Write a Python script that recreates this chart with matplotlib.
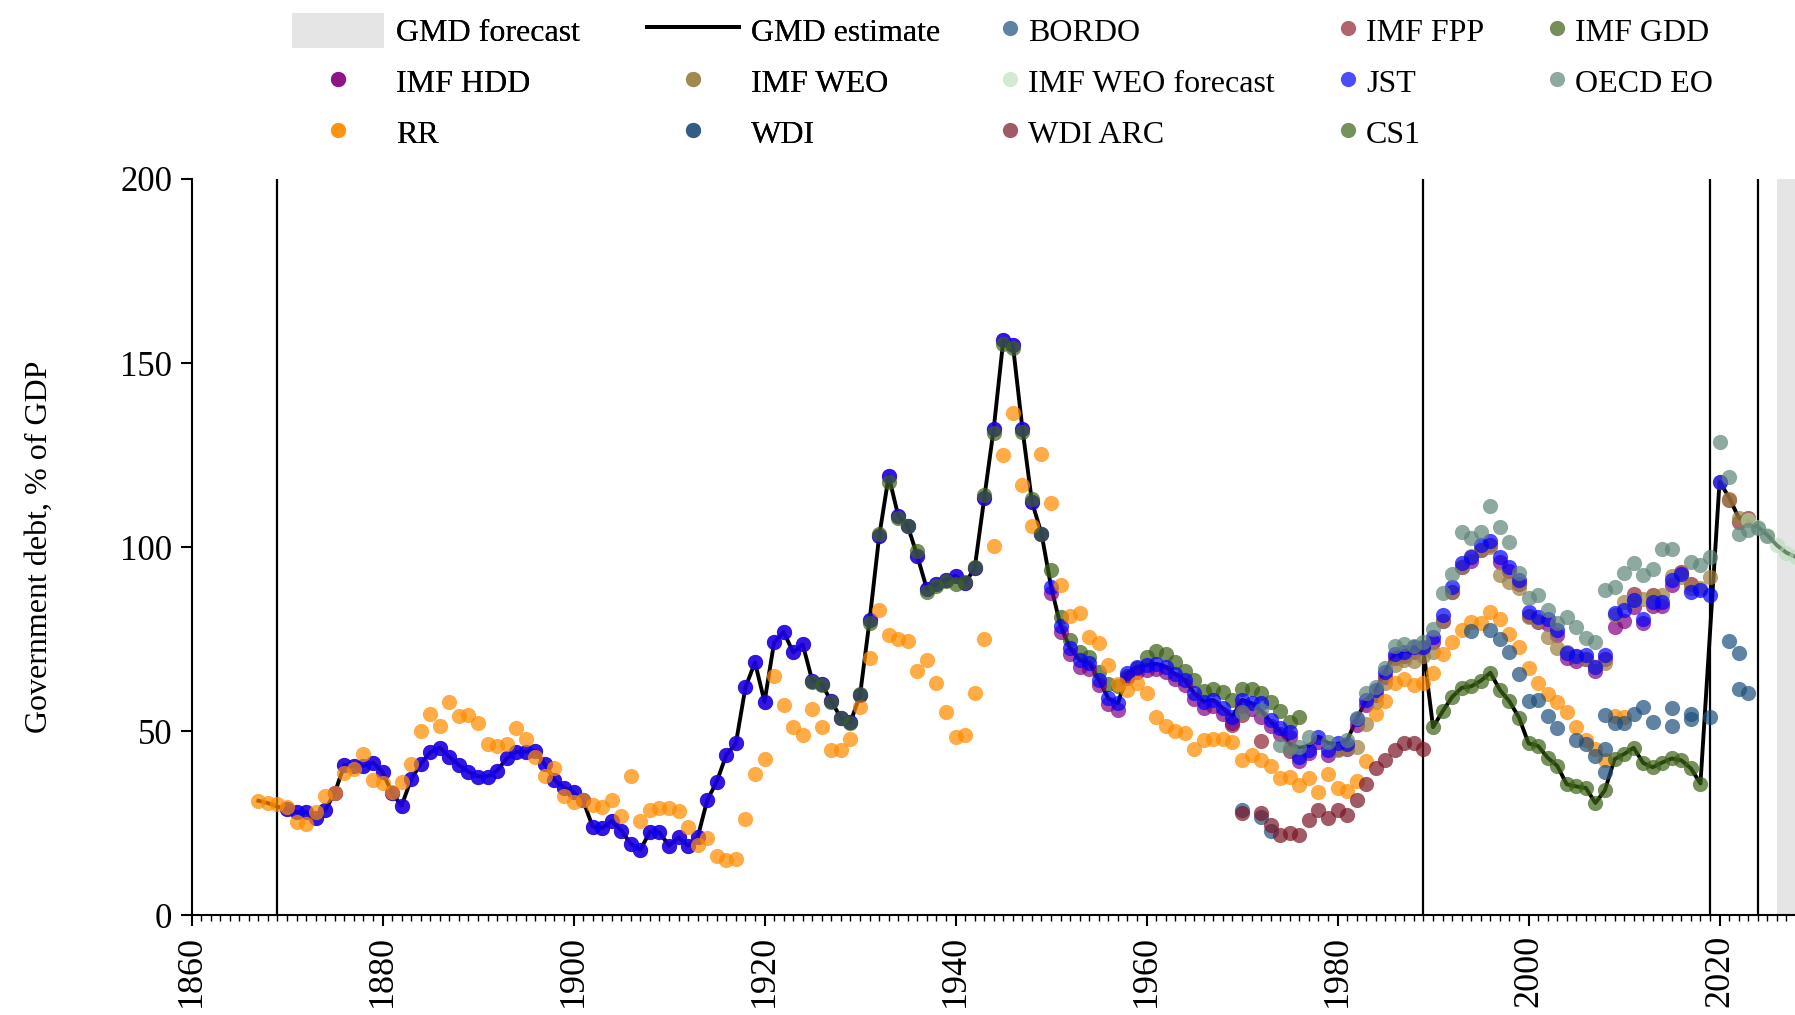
import numpy as np
import matplotlib.pyplot as plt
from matplotlib.patches import Patch
from matplotlib.lines import Line2D
from matplotlib.ticker import MultipleLocator

plt.rcParams['font.family'] = ['Liberation Serif', 'DejaVu Serif']

nan = np.nan

# GMD estimate, 1867-2030 (2019 not reported)
gmd_start = 1867
gmd = [31.1, 30.5, 29.5,
       28.8, 28.0, 28.0, 26.4, 28.6, 33.3, 40.8, 40.6, 40.6, 41.5,
       39.0, 33.1, 29.8, 37.0, 41.1, 44.3, 45.5, 43.1, 40.8, 39.0,
       37.7, 37.7, 39.3, 42.6, 44.4, 44.4, 44.7, 41.0, 36.8, 34.7,
       33.4, 31.2, 24.1, 23.7, 25.6, 23.0, 19.4, 17.8, 22.7, 22.5,
       18.9, 21.2, 18.9, 21.2, 31.3, 36.3, 43.6, 46.7, 61.9, 68.7,
       58.0, 74.1, 77.0, 71.4, 73.6, 63.7, 62.7, 58.1, 53.6, 52.5,
       59.8, 80.1, 102.9, 119.3, 108.5, 105.7, 97.6, 88.6, 90.0, 91.1,
       92.2, 90.3, 94.2, 113.3, 132.2, 156.2, 155.0, 132.2, 112.3, 103.7,
       89.3, 78.6, 72.5, 69.3, 68.6, 64.0, 58.9, 57.6, 65.7, 67.5,
       68.0, 68.3, 67.5, 65.5, 63.9, 60.3, 58.0, 58.5, 56.2, 54.0,
       58.5, 57.6, 55.5, 52.5, 50.0, 46.5, 45.5, 46.0, 48.5, 46.8,
       46.5, 47.5, 53.3, 58.5, 61.2, 66.2, 71.1, 71.6, 72.8, 72.0,
       51.1, 55.4, 59.3, 61.8, 62.2, 63.7, 65.9, 61.2, 58.1, 53.7,
       46.7, 46.0, 42.8, 40.6, 35.6, 35.0, 34.6, 30.5, 34.0, 42.4,
       43.8, 45.5, 41.4, 40.2, 41.5, 42.6, 42.1, 39.9, 35.8, nan,
       117.8, 113.5, 108.0, 107.0, 105.5, 103.3, 100.5, 98.5, 97.3, 96.0, 94.8]

# JST, 1870-2020
jst_start = 1870
jst = [28.8, 28.0, 28.0, 26.4, 28.6, 33.3, 40.8, 40.6, 40.6, 41.5,
       39.0, 33.1, 29.8, 37.0, 41.1, 44.3, 45.5, 43.1, 40.8, 39.0,
       37.7, 37.7, 39.3, 42.6, 44.4, 44.4, 44.7, 41.0, 36.8, 34.7,
       33.4, 31.2, 24.1, 23.7, 25.6, 23.0, 19.4, 17.8, 22.7, 22.5,
       18.9, 21.2, 18.9, 21.2, 31.3, 36.3, 43.6, 46.7, 61.9, 68.7,
       58.0, 74.1, 77.0, 71.4, 73.6, 63.7, 62.7, 58.1, 53.6, 52.5,
       59.8, 80.1, 102.9, 119.3, 108.5, 105.7, 97.6, 88.6, 90.0, 91.1,
       92.2, 90.3, 94.2, 113.3, 132.2, 156.2, 155.0, 132.2, 112.3, 103.7,
       89.3, 78.6, 72.5, 69.3, 68.6, 64.0, 58.9, 57.6, 65.7, 67.5,
       67.9, 68.3, 67.5, 65.5, 63.9, 60.3, 58.0, 58.5, 56.2, 54.0,
       58.5, 57.6, 57.6, 53.1, 50.8, 49.9, 43.1, 45.0, 48.5, 44.9,
       46.7, 46.5, 53.3, 58.5, 61.2, 66.2, 71.1, 71.6, 72.8, 73.0,
       75.5, 81.5, 89.2, 95.8, 97.4, 100.7, 101.7, 97.2, 94.7, 91.2,
       82.5, 81.1, 80.4, 77.5, 71.3, 70.4, 70.7, 67.5, 70.7, 82.0,
       82.9, 85.6, 80.6, 85.2, 85.2, 91.1, 92.7, 87.7, 88.3, 87.0, 117.8]

# IMF HDD, 1870-2015
hdd_start = 1870
hdd = [28.8, 28.0, 28.0, 26.4, 28.6, 33.3, 40.8, 40.6, 40.6, 41.5,
       39.0, 33.1, 29.8, 37.0, 41.1, 44.3, 45.5, 43.1, 40.8, 39.0,
       37.7, 37.7, 39.3, 42.6, 44.4, 44.4, 44.7, 41.0, 36.8, 34.7,
       33.4, 31.2, 24.1, 23.7, 25.6, 23.0, 19.4, 17.8, 22.7, 22.5,
       18.9, 21.2, 18.9, 21.2, 31.3, 36.3, 43.6, 46.7, 61.9, 68.7,
       58.0, 74.1, 77.0, 71.4, 73.6, 63.7, 62.7, 58.1, 53.6, 52.5,
       59.8, 80.1, 102.9, 119.3, 108.5, 105.7, 97.6, 88.6, 90.0, 91.1,
       92.2, 90.3, 94.2, 113.3, 132.2, 156.2, 155.0, 132.2, 112.3, 103.7,
       87.5, 77.0, 71.0, 67.5, 66.8, 62.5, 57.4, 55.9, 64.5, 66.1,
       66.5, 67.0, 66.1, 64.1, 62.5, 58.8, 56.4, 56.9, 54.6, 52.2,
       56.9, 56.0, 54.0, 51.5, 49.2, 48.4, 41.8, 44.0, 47.0, 43.6,
       45.2, 45.2, 51.8, 57.0, 59.8, 64.8, 69.8, 70.3, 71.5, 72.5,
       74.2, 80.0, 87.8, 94.5, 96.1, 99.3, 100.5, 96.0, 93.4, 89.9,
       81.2, 79.8, 79.1, 76.2, 70.0, 69.2, 69.5, 66.3, 69.5, 78.4,
       80.0, 83.8, 79.5, 84.0, 84.0, 89.8]

# RR, 1867-2010
rr_start = 1867
rr = [31.1, 30.6, 30.2,
      29.5, 25.3, 24.7, 28.0, 32.4, 33.1, 38.7, 39.7, 43.7, 36.8,
      35.9, 33.6, 36.3, 41.0, 50.1, 54.6, 51.5, 57.9, 54.2, 54.4,
      52.3, 46.5, 46.0, 46.5, 51.0, 47.8, 43.1, 37.9, 39.9, 32.4,
      30.7, 31.3, 30.0, 29.3, 31.3, 27.1, 37.9, 25.5, 28.6, 29.1,
      29.1, 28.2, 23.9, 19.1, 20.9, 16.2, 15.1, 15.3, 26.1, 38.4,
      42.4, 65.1, 57.1, 51.1, 49.1, 56.0, 51.1, 45.0, 45.0, 48.0,
      56.7, 70.0, 82.9, 76.1, 75.0, 74.5, 66.3, 69.4, 63.0, 55.1,
      48.3, 48.9, 60.4, 75.0, 100.4, 125.1, 136.5, 116.8, 105.7, 125.2,
      111.9, 89.6, 81.3, 82.1, 75.7, 73.9, 68.0, 62.8, 61.2, 63.2,
      60.5, 54.0, 51.5, 50.1, 49.4, 45.1, 47.6, 47.9, 47.9, 47.2,
      42.3, 43.5, 42.2, 40.6, 37.4, 37.7, 35.4, 37.4, 33.6, 38.4,
      34.5, 33.9, 36.5, 42.0, 54.7, 58.3, 63.0, 64.1, 62.5, 63.0,
      65.9, 70.9, 74.1, 77.5, 79.7, 79.5, 82.5, 80.6, 76.3, 73.0,
      67.3, 63.0, 60.0, 58.0, 55.3, 51.2, 47.6, 45.2, 42.2, 54.1,
      53.8]

# IMF GDD, 1950-1976
gdd_start = 1950
gdd = [93.8, 81.1, 74.8, 71.6, 70.2, 66.0, 62.7, 62.4, 65.0, 67.3,
       70.1, 71.9, 71.0, 68.9, 66.4, 63.9, 61.0, 61.6, 60.7, 58.5,
       61.6, 61.6, 60.5, 58.0, 55.5, 52.6, 54.0]

# CS1, 1925-1949 and 1990-2018
cs1_early_start = 1925
cs1_early = [63.3, 62.5, 57.9, 53.5, 52.2, 60.1, 79.3, 103.5, 117.8, 108.0,
             105.7, 99.0, 87.7, 89.5, 90.8, 90.0, 90.5, 94.5, 114.2, 131.0,
             155.3, 154.1, 131.3, 113.1, 103.5]
cs1_late_start = 1990
cs1_late = [51.1, 55.4, 59.3, 61.8, 62.2, 63.7, 65.9, 61.2, 58.1, 53.7,
            46.7, 46.0, 42.8, 40.6, 35.6, 35.0, 34.6, 30.5, 34.0, 42.4,
            43.8, 45.5, 41.4, 40.2, 41.5, 42.6, 42.1, 39.9, 35.8]

# OECD EO, 1970-2025
oecd_start = 1970
oecd = [55.3, nan, 55.8, nan, 46.3, 45.4, 45.8, 48.5, nan, 47.2,
        nan, 47.6, 53.5, 60.3, 62.1, 67.1, 73.1, 73.7, 73.2, 74.1,
        77.9, 87.6, 92.7, 104.0, 102.4, 104.0, 111.3, 105.5, 101.3, 92.9,
        86.3, 87.0, 82.9, 79.5, 81.1, 78.2, 75.2, 74.3, 88.3, 89.3,
        93.0, 95.6, 92.4, 94.0, 99.6, 99.6, nan, 96.0, 95.1, 97.4,
        128.6, 119.1, 103.7, 104.6, 105.1, 103.0]

# IMF WEO, 1980-2023
weo_start = 1980
weo = [44.9, 45.5, 45.6, 52.0, 58.0, 63.0, 68.0, 69.3, 69.0, 70.5,
       71.6, 80.0, 87.7, 94.7, 97.5, 99.2, 100.1, 92.4, 90.5, 88.8,
       81.1, 80.0, 75.7, 72.5, 71.5, 70.5, 69.5, 67.5, 68.5, 81.5,
       85.2, 85.5, 86.0, 86.5, 87.0, 92.1, 91.8, 88.8, 88.9, 91.9,
       117.8, 113.2, 107.8, 107.5]

# IMF WEO forecast, 2023-2029
weof_start = 2023
weof = [107.5, 105.5, 103.3, 100.5, 98.3, 97.4, 96.2]

# IMF FPP
fpp_years = [1969, 1970, 1972, 1975, 2011, 2013, 2016, 2017, 2021, 2022, 2023]
fpp = [51.7, 54.5, 47.4, 44.6, 87.4, 87.0, 93.3, 90.1, 112.8, 106.9, 107.8]

# BORDO
bordo_years = [1970, 1972, 1973]
bordo = [28.6, 26.8, 23.0]

# WDI
wdi_years = [1994, 1996, 1997, 1998, 1999, 2000, 2001, 2002, 2003, 2005,
             2006, 2007, 2008, 2008, 2008, 2009, 2010, 2011, 2012, 2013,
             2015, 2015, 2017, 2017, 2019, 2021, 2022, 2022, 2023]
wdi = [77.3, 77.5, 75.0, 71.6, 65.5, 58.2, 58.6, 54.1, 50.8, 47.6,
       46.4, 43.3, 39.0, 45.3, 54.4, 52.3, 52.3, 54.8, 56.5, 52.6,
       51.4, 56.2, 54.8, 53.2, 53.8, 74.6, 71.3, 61.6, 60.5]

# WDI ARC, 1970-1989
wdiarc_start = 1970
wdiarc = [27.9, nan, 27.7, 24.5, 21.8, 22.3, 21.8, 25.9, 28.6, 26.3,
          28.6, 27.2, 31.3, 35.7, 39.9, 42.2, 44.9, 46.9, 46.7, 45.1]

source_breaks = [1869, 1989, 2019, 2024]
forecast_start = 2026


def yrs(start, vals):
    return np.arange(start, start + len(vals))


fig = plt.figure(figsize=(17.95, 10.15), dpi=100)
ax = fig.add_axes([0.1067, 0.0982, 0.8933, 0.7255])

ax.axvspan(forecast_start, 2040, color='#e5e5e5', lw=0, zorder=0)
for b in source_breaks:
    ax.axvline(b, color='black', lw=1.6, zorder=1)

gx = yrs(gmd_start, gmd)
gy = np.array(gmd)
ok = ~np.isnan(gy)
ax.plot(gx[ok], gy[ok], color='black', lw=2.8, zorder=2)

kw = dict(s=120, linewidths=0, zorder=3)
h = {}
h['BORDO'] = ax.scatter(bordo_years, bordo, color='#1d4f7c', alpha=0.7, **kw)
h['IMF FPP'] = ax.scatter(fpp_years, fpp, color='#8f2330', alpha=0.7, **kw)
h['IMF GDD'] = ax.scatter(yrs(gdd_start, gdd), gdd, color='#3a5e14', alpha=0.7, **kw)
h['IMF HDD'] = ax.scatter(yrs(hdd_start, hdd), hdd, color='purple', alpha=0.7, **kw)
h['IMF WEO'] = ax.scatter(yrs(weo_start, weo), weo, color='#9a7e3e', alpha=0.7, **kw)
h['IMF WEO forecast'] = ax.scatter(yrs(weof_start, weof), weof, color='#b5dcb5', alpha=0.6, **kw)
h['JST'] = ax.scatter(yrs(jst_start, jst), jst, color='blue', alpha=0.7, **kw)
h['OECD EO'] = ax.scatter(yrs(oecd_start, oecd), oecd, color='#5f8578', alpha=0.7, **kw)
h['RR'] = ax.scatter(yrs(rr_start, rr), rr, color='darkorange', alpha=0.72, **kw)
h['WDI'] = ax.scatter(wdi_years, wdi, color='#1d4f7c', alpha=0.7, **kw)
h['WDI ARC'] = ax.scatter(yrs(wdiarc_start, wdiarc), wdiarc, color='#7a1525', alpha=0.7, **kw)
ax.scatter(yrs(cs1_early_start, cs1_early), cs1_early, color='#3d6318', alpha=0.7, **kw)
h['CS1'] = ax.scatter(yrs(cs1_late_start, cs1_late), cs1_late, color='#3d6318', alpha=0.7, **kw)

ax.set_xlim(1860, 2027.9)
ax.set_ylim(0, 200)
ax.set_xticks(range(1860, 2021, 20))
ax.xaxis.set_minor_locator(MultipleLocator(1))
ax.set_yticks([0, 50, 100, 150, 200])
ax.tick_params(axis='x', which='major', length=8, width=1.5, labelsize=26,
               labelrotation=90, pad=6)
ax.tick_params(axis='x', which='minor', length=4, width=1.0)
ax.tick_params(axis='y', which='major', length=8, width=1.5, labelsize=25, pad=6)
for s in ['top', 'right']:
    ax.spines[s].set_visible(False)
for s in ['left', 'bottom']:
    ax.spines[s].set_linewidth(1.5)

ax.set_ylabel('Government debt, % of GDP', fontsize=23)
ax.yaxis.set_label_coords(-0.086, 0.5)

fc_patch = Patch(facecolor='#e5e5e5', edgecolor='none')
est_line = Line2D([], [], color='black', lw=2.8)

leg_style = dict(loc='upper left', frameon=False, fontsize=23, borderpad=0,
                 borderaxespad=0, handleheight=1.3, labelspacing=0.5,
                 scatterpoints=1)
leg_a = fig.legend([fc_patch, h['IMF HDD'], h['RR'], est_line, h['IMF WEO'], h['WDI']],
                   ['GMD forecast', 'IMF HDD', 'RR', 'GMD estimate', 'IMF WEO', 'WDI'],
                   ncol=2, bbox_to_anchor=(292 / 1795, 1 - 13 / 1015),
                   handlelength=2.88, handletextpad=0.37, columnspacing=2.1,
                   **leg_style)
fig.add_artist(leg_a)
order_b = ['BORDO', 'IMF WEO forecast', 'WDI ARC', 'IMF FPP', 'JST', 'CS1',
           'IMF GDD', 'OECD EO']
fig.legend([h[k] for k in order_b], order_b, ncol=3,
           bbox_to_anchor=(1001 / 1795, 1 - 13 / 1015),
           handlelength=0.55, handletextpad=0.3, columnspacing=2.0,
           **leg_style)

fig.savefig('out.png', dpi=100)
